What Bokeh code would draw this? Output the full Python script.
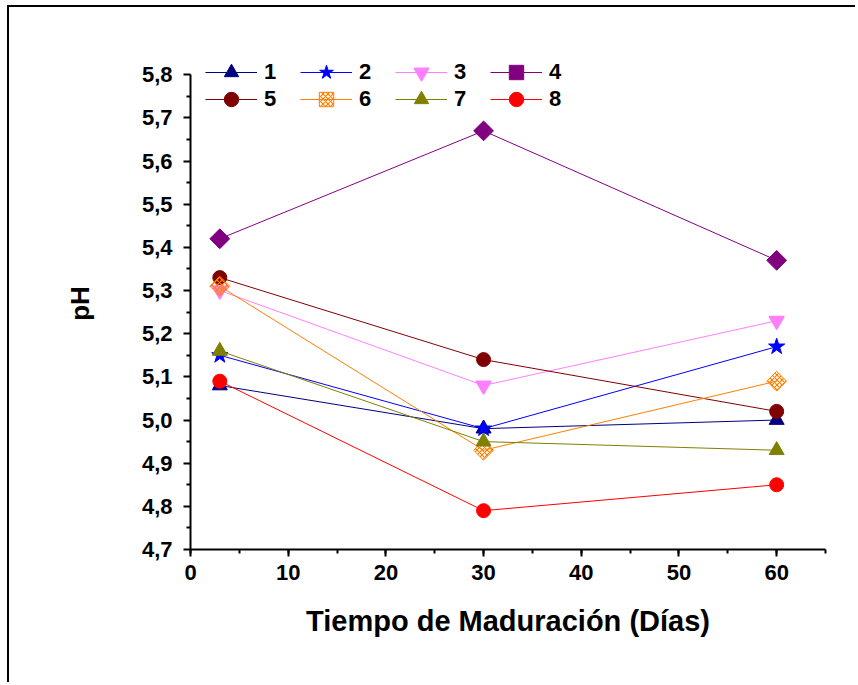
import math
from bokeh.plotting import figure
from bokeh.models import (Legend, LegendItem, CustomJSTickFormatter,
                          FixedTicker, SingleIntervalTicker, Range1d)
from bokeh.embed import file_html
from bokeh.resources import INLINE

days = [3, 30, 60]
ph_1 = [5.08, 4.98, 5.00]
ph_2 = [5.15, 4.98, 5.17]
ph_3 = [5.30, 5.08, 5.23]
ph_4 = [5.42, 5.67, 5.37]
ph_5 = [5.33, 5.14, 5.02]
ph_6 = [5.31, 4.93, 5.09]
ph_7 = [5.16, 4.95, 4.93]
ph_8 = [5.09, 4.79, 4.85]
series_labels = ["1", "2", "3", "4", "5", "6", "7", "8"]
series = [ph_1, ph_2, ph_3, ph_4, ph_5, ph_6, ph_7, ph_8]

y_ticks = [4.7, 4.8, 4.9, 5.0, 5.1, 5.2, 5.3, 5.4, 5.5, 5.6, 5.7, 5.8]
y_minor = [4.75, 4.85, 4.95, 5.05, 5.15, 5.25, 5.35, 5.45, 5.55, 5.65, 5.75]

colors = ["#000080", "#0000FF", "#FF80FF", "#800080",
          "#800000", "#FF8000", "#808000", "#FF0000"]
markers = ["triangle", "star", "inverted_triangle", "square",
           "circle", "square", "triangle", "circle"]
angles = [0, 0, 0, math.pi / 4, 0, math.pi / 4, 0, 0]
sizes = [15, 17, 15, 14, 14, 14, 15, 14]

FONT = "Liberation Sans"

p = figure(output_backend="svg", toolbar_location=None,
           frame_width=635, frame_height=492,
           min_border_left=181, min_border_top=50,
           min_border_right=30, min_border_bottom=133,
           x_range=Range1d(0, 65), y_range=Range1d(4.7, 5.84))
p.styles = {"border-left": "2px solid black", "border-top": "2px solid black",
            "margin-left": "7px", "margin-top": "5px"}
p.outline_line_color = None
p.xgrid.visible = False
p.ygrid.visible = False
p.background_fill_color = "white"
p.border_fill_color = "white"

p.xaxis.ticker = SingleIntervalTicker(interval=10, num_minor_ticks=2)
p.yaxis.ticker = FixedTicker(ticks=y_ticks, minor_ticks=y_minor)
p.yaxis.formatter = CustomJSTickFormatter(code="return tick.toFixed(1).replace('.', ',');")
p.yaxis.bounds = (4.7, 5.8)

for ax in (p.xaxis[0], p.yaxis[0]):
    ax.axis_line_width = 2
    ax.axis_line_color = "black"
    ax.major_tick_line_width = 2
    ax.minor_tick_line_width = 2
    ax.major_tick_out = 7
    ax.major_tick_in = 0
    ax.minor_tick_out = 4
    ax.minor_tick_in = 0
    ax.major_label_text_font = FONT
    ax.major_label_text_font_style = "bold"
    ax.major_label_text_font_size = "22px"
    ax.major_label_text_color = "black"
    ax.axis_label_text_font = FONT
    ax.axis_label_text_font_style = "bold"
    ax.axis_label_text_color = "black"

p.xaxis.axis_label = "Tiempo de Maduración (Días)"
p.xaxis.axis_label_text_font_size = "29px"
p.xaxis.axis_label_standoff = 22
p.xaxis.major_label_standoff = 8
p.yaxis.axis_label = "pH"
p.yaxis.axis_label_text_font_size = "26px"
p.yaxis.axis_label_standoff = 44
p.yaxis.major_label_standoff = 11

items = []
for lab, vals, col, mk, ang, sz in zip(series_labels, series, colors, markers, angles, sizes):
    ln = p.line(days, vals, line_color=col, line_width=1)
    style = dict(line_color=col, fill_color=col)
    if lab == "6":
        style = dict(line_color=col, fill_color=None, hatch_pattern="diagonal_cross",
                     hatch_color=col, hatch_scale=5, hatch_weight=1.2)
    elif lab == "3":
        style = dict(line_color=col, fill_color=col, line_width=1.5)
    sc = p.scatter(days, vals, marker=mk, size=sz, angle=ang, **style)
    items.append(LegendItem(label=lab, renderers=[ln, sc]))


def make_legend(its, loc):
    lg = Legend(items=its, location=loc, orientation="horizontal",
                border_line_color=None, background_fill_alpha=0,
                padding=0, margin=0, spacing=16,
                glyph_width=52, glyph_height=36, label_standoff=7,
                label_width=20, label_height=20,
                label_text_font=FONT, label_text_font_style="bold",
                label_text_font_size="22px", label_text_color="black")
    return lg


p.add_layout(make_legend(items[:4], (15, 459)), "center")
p.add_layout(make_legend(items[4:], (15, 432)), "center")

open("out.html", "w").write(file_html(p, INLINE))
